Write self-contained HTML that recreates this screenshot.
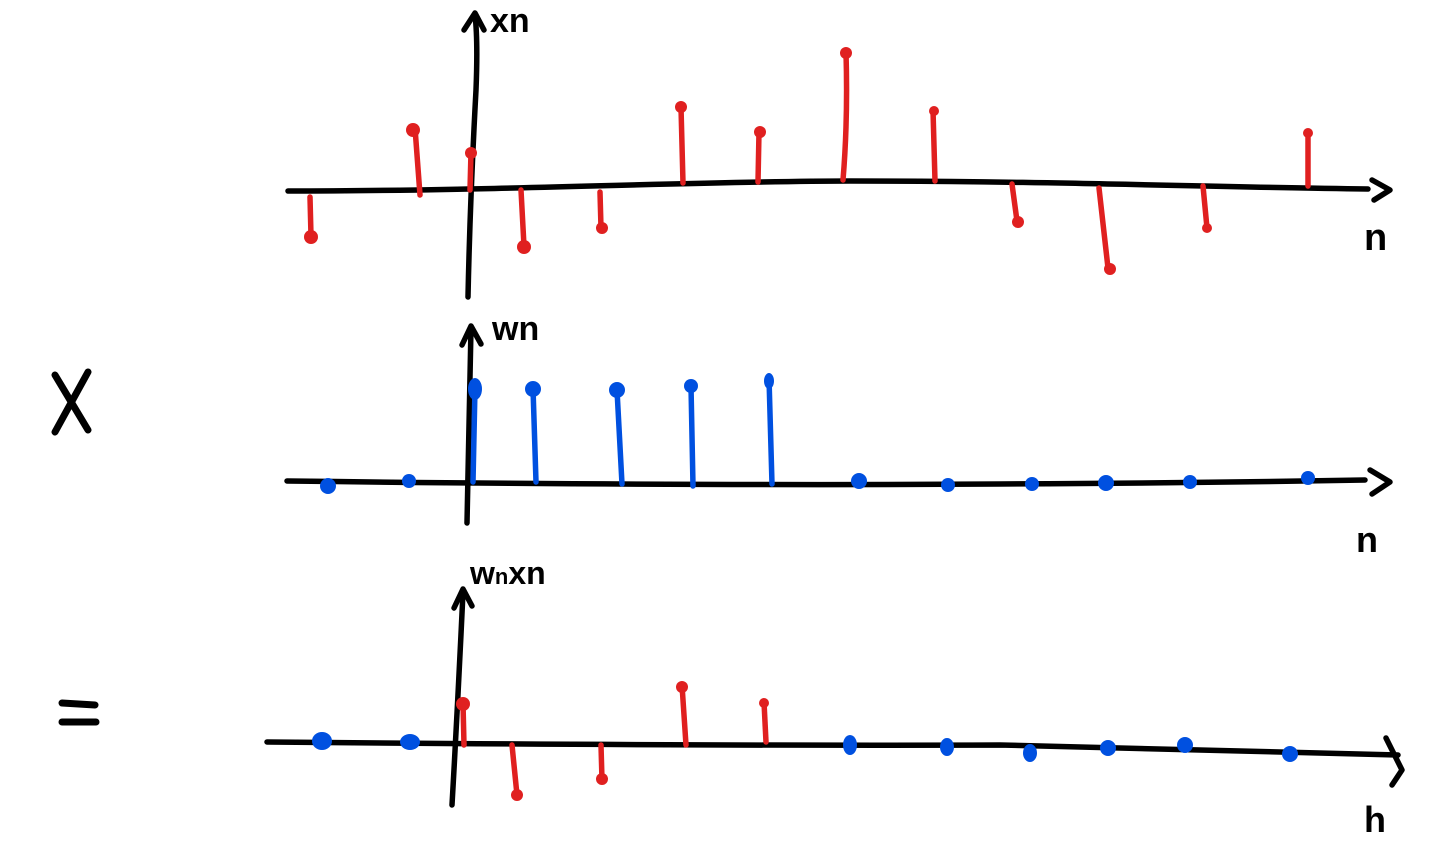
<!DOCTYPE html>
<html><head><meta charset="utf-8"><style>
html,body{margin:0;padding:0;background:#fff;}
svg{display:block}
text{font-family:"Liberation Sans",sans-serif;font-weight:bold;fill:#000}
</style></head><body>
<svg width="1435" height="846" viewBox="0 0 1435 846" xmlns="http://www.w3.org/2000/svg">
<g fill="none" stroke-linecap="round" stroke-linejoin="round">
<!-- TOP -->
<g stroke="#000" stroke-width="5.5">
<path d="M288 191 C500 191 700 181 850 181 C1050 181 1200 187 1368 189"/>
<path d="M1372 180 L1390 190 L1374 200"/>
<path d="M468 297 Q470 200 476 90 Q478 40 475 15"/>
<path d="M464 30 L475 13 L484 30"/>
</g>
<g stroke="#e02020" stroke-width="5.5">
<path d="M310 197 L311 236"/><path d="M415 128 L420 195"/><path d="M471 152 L470 190"/>
<path d="M521 190 L524 246"/><path d="M600 192 L601 228"/><path d="M681 107 L683 183"/>
<path d="M759 132 L758 182"/><path d="M846 52 Q848 120 843 180"/><path d="M933 110 L935 181"/>
<path d="M1012 184 L1017 221"/><path d="M1099 188 L1108 268"/><path d="M1203 186 L1207 228"/>
<path d="M1308 133 L1308 186"/>
</g>
<g fill="#e02020">
<circle cx="311" cy="237" r="7"/><circle cx="413" cy="130" r="7"/><circle cx="471" cy="153" r="6"/>
<circle cx="524" cy="247" r="7"/><circle cx="602" cy="228" r="6"/><circle cx="681" cy="107" r="6"/>
<circle cx="760" cy="132" r="6"/><circle cx="846" cy="53" r="6"/><circle cx="934" cy="111" r="5"/>
<circle cx="1018" cy="222" r="6"/><circle cx="1110" cy="269" r="6"/><circle cx="1207" cy="228" r="5"/>
<circle cx="1308" cy="133" r="5"/>
</g>
<!-- MIDDLE -->
<g stroke="#000" stroke-width="5.5">
<path d="M287 481 Q700 486 1000 484 Q1200 483 1365 480"/>
<path d="M1370 470 L1390 482 L1372 494"/>
<path d="M467 523 L471 328"/>
<path d="M462 345 L471 326 L481 344"/>
</g>
<g stroke="#0050e0" stroke-width="5.5">
<path d="M475 388 L473 482"/><path d="M533 388 L536 482"/><path d="M617 390 L622 484"/>
<path d="M691 386 L693 486"/><path d="M769 378 L772 484"/>
</g>
<g fill="#0050e0">
<ellipse cx="475" cy="389" rx="7" ry="11"/><circle cx="533" cy="389" r="8"/><circle cx="617" cy="390" r="8"/>
<circle cx="691" cy="386" r="7"/><ellipse cx="769" cy="381" rx="5" ry="8"/>
<circle cx="328" cy="486" r="8"/><circle cx="409" cy="481" r="7"/><circle cx="859" cy="481" r="8"/>
<circle cx="948" cy="485" r="7"/><circle cx="1032" cy="484" r="7"/><circle cx="1106" cy="483" r="8"/>
<circle cx="1190" cy="482" r="7"/><circle cx="1308" cy="478" r="7"/>
</g>
<!-- BOTTOM -->
<g stroke="#000" stroke-width="5.5">
<path d="M267 742 Q700 746 1000 745 Q1200 750 1398 755"/>
<path d="M1386 738 L1402 770 L1392 785"/>
<path d="M452 805 Q458 700 463 592"/>
<path d="M454 608 L463 589 L472 606"/>
</g>
<g stroke="#e02020" stroke-width="5.5">
<path d="M463 703 L464 745"/><path d="M512 745 L517 795"/><path d="M601 745 L602 780"/>
<path d="M682 685 L686 745"/><path d="M764 702 L766 742"/>
</g>
<g fill="#e02020">
<circle cx="463" cy="704" r="7"/><circle cx="517" cy="795" r="6"/><circle cx="602" cy="779" r="6"/>
<circle cx="682" cy="687" r="6"/><circle cx="764" cy="703" r="5"/>
</g>
<g fill="#0050e0">
<ellipse cx="322" cy="741" rx="10" ry="9"/><ellipse cx="410" cy="742" rx="10" ry="8"/><ellipse cx="850" cy="745" rx="7" ry="10"/>
<ellipse cx="947" cy="747" rx="7" ry="9"/><ellipse cx="1030" cy="753" rx="7" ry="9"/><circle cx="1108" cy="748" r="8"/>
<circle cx="1185" cy="745" r="8"/><circle cx="1290" cy="754" r="8"/>
</g>
<!-- operators -->
<g stroke="#000" stroke-width="7">
<path d="M55 375 L88 430"/><path d="M88 372 L55 432"/>
<path d="M62 703 L95 705"/><path d="M62 722 L96 722"/>
</g>
</g>
<text x="490" y="32" font-size="34">xn</text>
<text x="1364" y="250" font-size="38">n</text>
<text x="492" y="340" font-size="34">wn</text>
<text x="1356" y="552" font-size="36">n</text>
<text x="470" y="584" font-size="32">w<tspan font-size="22">n</tspan>xn</text>
<text x="1364" y="832" font-size="36">h</text>
</svg>
</body></html>
